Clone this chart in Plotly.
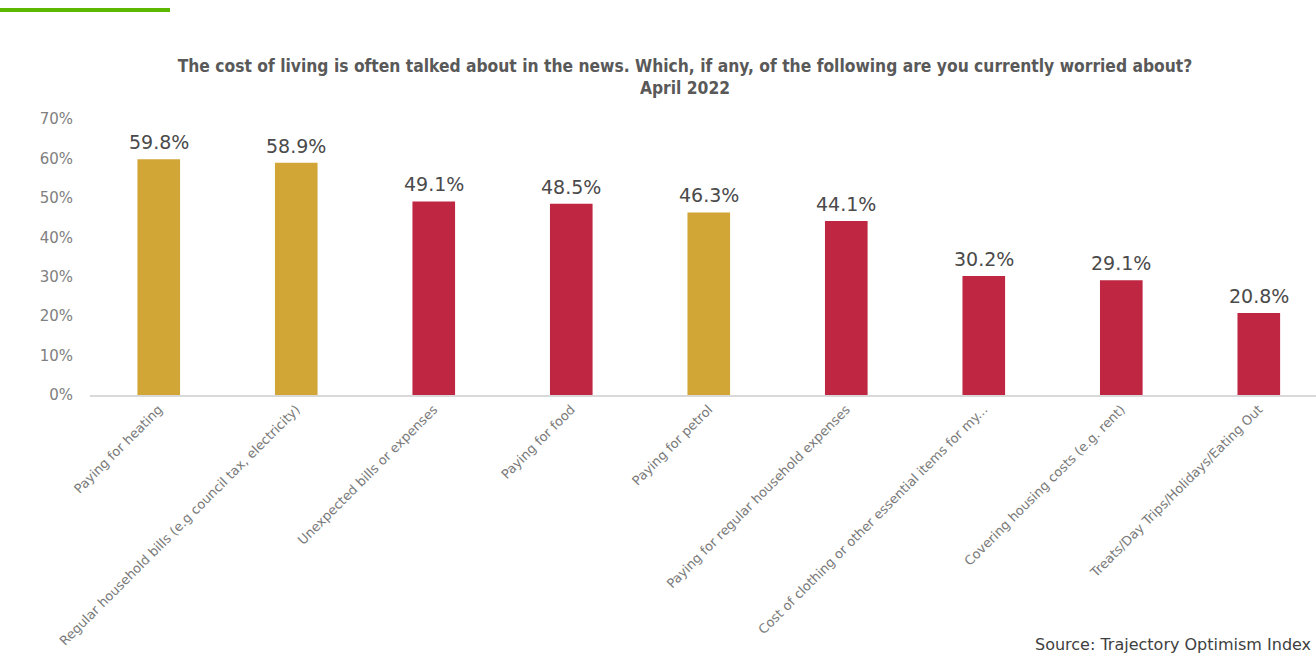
import plotly.graph_objects as go

categories = [
    "Paying for heating",
    "Regular household bills (e.g council tax, electricity)",
    "Unexpected bills or expenses",
    "Paying for food",
    "Paying for petrol",
    "Paying for regular household expenses",
    "Cost of clothing or other essential items for my...",
    "Covering housing costs (e.g. rent)",
    "Treats/Day Trips/Holidays/Eating Out",
]
values = [59.8, 58.9, 49.1, 48.5, 46.3, 44.1, 30.2, 29.1, 20.8]
highlight = [True, True, False, False, True, False, False, False, False]

GOLD = "#D1A637"
RED = "#BE2642"
colors = [GOLD if h else RED for h in highlight]

W, H = 1316, 660
ML, MR, MT, MB = 90, 0, 119, 265
PW = W - ML - MR
PH = H - MT - MB


def px_x(x):
    return (x - ML) / PW


def px_y(y):
    return (H - MB - y) / PH


fig = go.Figure(
    go.Bar(
        x=categories,
        y=values,
        marker=dict(color=colors, line=dict(width=0)),
        hoverinfo="skip",
    )
)

# value labels placed just above each bar, from the data
for c, v in zip(categories, values):
    fig.add_annotation(
        x=c, y=v, xref="x", yref="y",
        text=f"{v:.1f}%",
        showarrow=False,
        yanchor="bottom",
        yshift=4,
        font=dict(family="DejaVu Sans", size=19, color="#4a4a4a"),
    )

fig.update_layout(
    width=W,
    height=H,
    margin=dict(l=ML, r=MR, t=MT, b=MB, autoexpand=False),
    paper_bgcolor="white",
    plot_bgcolor="white",
    bargap=0.69,
    showlegend=False,
    title=dict(
        text="The cost of living is often talked about in the news. Which, if any, of the following are you currently worried about?<br>April 2022",
        xref="container", x=685 / W, xanchor="center",
        yref="container", y=1 - 72 / H, yanchor="middle",
        font=dict(family="DejaVu Sans Condensed", size=17.3, color="#595959", weight="bold"),
    ),
    xaxis=dict(
        range=[-0.5, 8.416],
        tickangle=-45,
        showline=True,
        linecolor="#D9D9D9",
        linewidth=1.5,
        showgrid=False,
        ticks="",
        tickfont=dict(family="DejaVu Sans", size=13, color="#7a7a7a"),
        fixedrange=True,
        automargin=False,
    ),
    yaxis=dict(
        range=[0, 70],
        tickvals=[0, 10, 20, 30, 40, 50, 60, 70],
        ticktext=["0%", "10%", "20%", "30%", "40%", "50%", "60%", "70%"],
        showgrid=False,
        zeroline=False,
        showline=False,
        ticks="",
        ticklabelstandoff=16,
        tickfont=dict(family="DejaVu Sans", size=15, color="#808080"),
        automargin=False,
    ),
    shapes=[
        dict(
            type="rect", xref="paper", yref="paper",
            x0=px_x(0), x1=px_x(170), y0=px_y(12), y1=px_y(8),
            fillcolor="#5CB800", line=dict(width=0), layer="above",
        )
    ],
)

fig.add_annotation(
    text="Source: Trajectory Optimism Index",
    xref="paper", yref="paper",
    x=px_x(1033), xanchor="left",
    y=px_y(644), yanchor="middle",
    showarrow=False,
    font=dict(family="DejaVu Sans", size=16, color="#404040"),
)

fig.write_html("out.html")
